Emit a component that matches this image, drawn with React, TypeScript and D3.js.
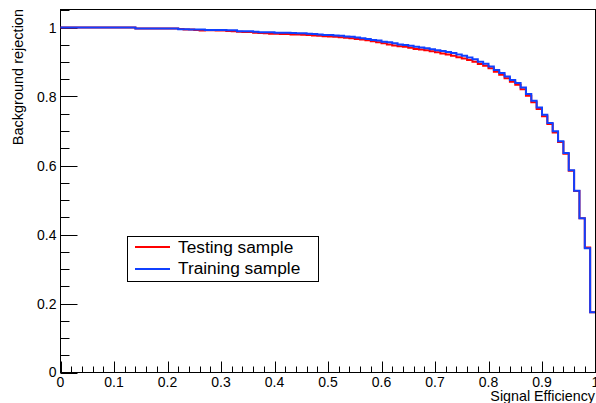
import React from "react";
import * as d3 from "d3";

// Bin edges: 100 bins of width 0.01 on [0, 1]
const binLow: number[] = d3.range(0, 100).map((i) => i / 100);

// Training sample (blue) background rejection per signal-efficiency bin
const trainRejection: number[] = [
  1.000, 1.000, 1.000, 1.000, 1.000, 1.000, 1.000, 1.000, 1.000, 1.000,
  1.000, 1.000, 1.000, 1.000, 0.997, 0.997, 0.997, 0.997, 0.997, 0.997,
  0.997, 0.997, 0.995, 0.995, 0.994, 0.994, 0.994, 0.993, 0.993, 0.993,
  0.993, 0.992, 0.992, 0.989, 0.989, 0.989, 0.988, 0.986, 0.986, 0.986,
  0.985, 0.985, 0.985, 0.984, 0.983, 0.983, 0.982, 0.981, 0.980, 0.978,
  0.978, 0.977, 0.976, 0.974, 0.973, 0.971, 0.969, 0.967, 0.964, 0.962,
  0.959, 0.957, 0.954, 0.951, 0.949, 0.947, 0.944, 0.942, 0.940, 0.937,
  0.934, 0.932, 0.929, 0.926, 0.922, 0.918, 0.913, 0.908, 0.901, 0.895,
  0.887, 0.877, 0.868, 0.858, 0.848, 0.839, 0.826, 0.807, 0.788, 0.768,
  0.747, 0.723, 0.699, 0.670, 0.636, 0.586, 0.527, 0.447, 0.360, 0.175,
];

// Testing sample (red) background rejection per signal-efficiency bin
const testRejection: number[] = [
  1.000, 1.000, 1.000, 1.000, 1.000, 1.000, 1.000, 1.000, 1.000, 1.000,
  1.000, 1.000, 1.000, 1.000, 0.997, 0.997, 0.997, 0.997, 0.997, 0.997,
  0.997, 0.997, 0.996, 0.994, 0.994, 0.993, 0.991, 0.992, 0.992, 0.991,
  0.991, 0.990, 0.989, 0.988, 0.987, 0.987, 0.985, 0.984, 0.983, 0.982,
  0.982, 0.981, 0.981, 0.980, 0.980, 0.979, 0.978, 0.977, 0.976, 0.975,
  0.974, 0.973, 0.972, 0.970, 0.969, 0.967, 0.965, 0.963, 0.960, 0.957,
  0.954, 0.951, 0.948, 0.946, 0.944, 0.941, 0.938, 0.936, 0.934, 0.931,
  0.928, 0.925, 0.922, 0.918, 0.914, 0.910, 0.906, 0.901, 0.894, 0.889,
  0.882, 0.872, 0.863, 0.853, 0.843, 0.834, 0.821, 0.802, 0.783, 0.764,
  0.743, 0.720, 0.696, 0.668, 0.634, 0.585, 0.526, 0.447, 0.362, 0.175,
];

const xMajor: number[] = [0, 0.1, 0.2, 0.3, 0.4, 0.5, 0.6, 0.7, 0.8, 0.9, 1];
const xMajorLabels: string[] = ["0", "0.1", "0.2", "0.3", "0.4", "0.5", "0.6", "0.7", "0.8", "0.9", "1"];
const yMajor: number[] = [0, 0.2, 0.4, 0.6, 0.8, 1];
const yMajorLabels: string[] = ["0", "0.2", "0.4", "0.6", "0.8", "1"];
const xMinor: number[] = d3.range(0, 51).map((i) => i / 50);
const yMinor: number[] = d3.range(0, 22).map((i) => i / 20);

const seriesNames: string[] = ["Testing sample", "Training sample"];
const seriesColors: string[] = ["#ff0000", "#1040ff"];

const FONT = "'Liberation Sans', Arial, Helvetica, sans-serif";

export default function App() {
  const W = 596;
  const H = 403;
  const left = 60.5;
  const right = 595.5;
  const top = 9.5;
  const bottom = 372.5;

  const x = d3.scaleLinear().domain([0, 1]).range([left, right]);
  const y = d3.scaleLinear().domain([0, 1]).range([bottom, 27.5]);

  const mkPath = (vals: number[]) => {
    const pts: [number, number][] = binLow.map((b, i) => [b, vals[i]]);
    pts.push([1, vals[vals.length - 1]]);
    return d3
      .line<[number, number]>()
      .x((d) => x(d[0]))
      .y((d) => y(d[1]))
      .curve(d3.curveStepAfter)(pts) as string;
  };

  const series = [testRejection, trainRejection];

  return (
    <svg
      width={W}
      height={H}
      style={{ position: "absolute", left: 0, top: 0, background: "#fff" }}
      fontFamily={FONT}
    >
      <rect x={0} y={0} width={W} height={H} fill="#fff" />
      {/* frame */}
      <rect x={left} y={top} width={right - left} height={bottom - top} fill="none" stroke="#000" strokeWidth={1} />

      {/* x ticks */}
      {xMinor.map((t, i) => {
        const isMajor = i % 5 === 0;
        const px = Math.round(x(t)) + 0.5;
        return (
          <line key={"xm" + i} x1={px} x2={px} y1={bottom} y2={bottom - (isMajor ? 11 : 6)} stroke="#000" strokeWidth={1} />
        );
      })}
      {/* y ticks */}
      {yMinor.map((t, i) => {
        const isMajor = i % 4 === 0;
        const py = Math.round(y(t)) + 0.5;
        if (py < top) return null;
        return (
          <line key={"ym" + i} x1={left} x2={left + (isMajor ? 17 : 9)} y1={py} y2={py} stroke="#000" strokeWidth={1} />
        );
      })}

      {/* x labels */}
      {xMajor.map((t, i) => (
        <text key={"xl" + i} x={x(t)} y={387} fontSize={14} textAnchor="middle" fill="#000">
          {xMajorLabels[i]}
        </text>
      ))}
      {/* y labels */}
      {yMajor.map((t, i) => (
        <text key={"yl" + i} x={56.5} y={y(t) + (t === 0 ? 4 : 5)} fontSize={14} textAnchor="end" fill="#000">
          {yMajorLabels[i]}
        </text>
      ))}

      {/* axis titles */}
      <text x={595} y={401} fontSize={14.3} textAnchor="end" fill="#000">
        Signal Efficiency
      </text>
      <text transform="translate(22.5,9) rotate(-90)" fontSize={14.5} textAnchor="end" fill="#000">
        Background rejection
      </text>

      {/* curves */}
      {series.map((vals, i) => (
        <path key={"s" + i} d={mkPath(vals)} fill="none" stroke={seriesColors[i]} strokeWidth={2} />
      ))}

      {/* redraw right border on top */}
      <line x1={right} x2={right} y1={top} y2={bottom} stroke="#000" strokeWidth={1} />

      {/* legend */}
      <rect x={127.5} y={236.5} width={191} height={45} fill="#fff" stroke="#000" strokeWidth={1} />
      {seriesNames.map((name, i) => (
        <g key={"lg" + i}>
          <line x1={135} x2={170} y1={247 + i * 22} y2={247 + i * 22} stroke={seriesColors[i]} strokeWidth={2} />
          <text x={178} y={252.5 + i * 21.5} fontSize={17.3} fill="#000">
            {name}
          </text>
        </g>
      ))}
    </svg>
  );
}
